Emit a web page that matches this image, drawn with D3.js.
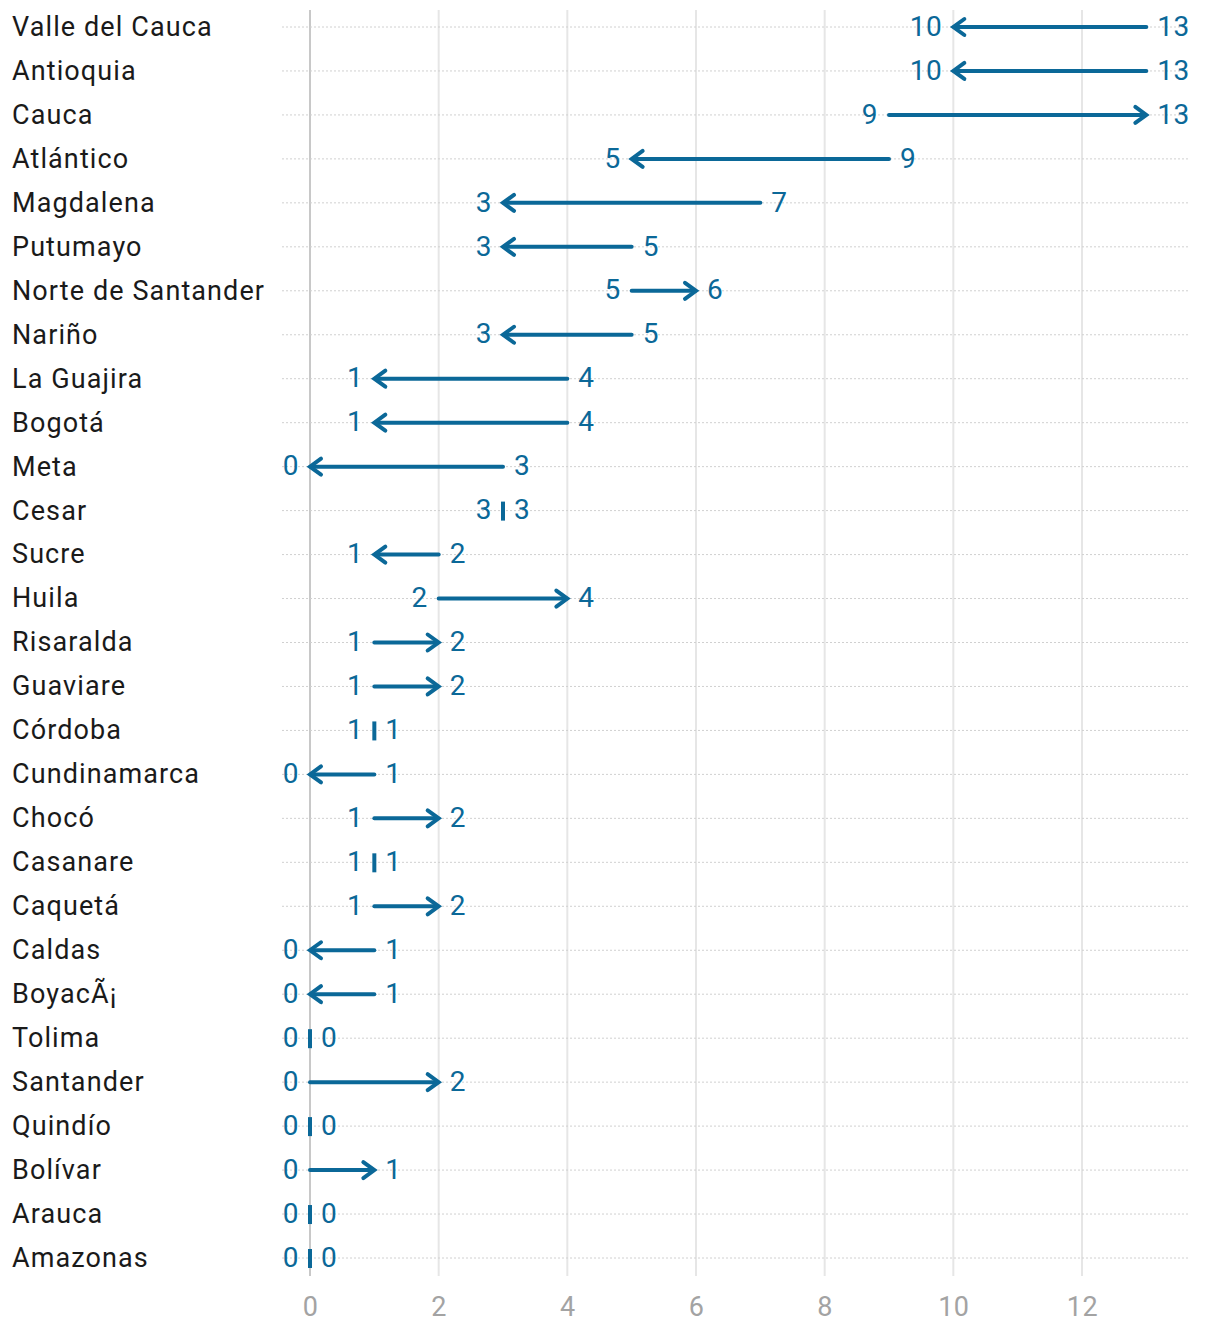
<!DOCTYPE html>
<html><head><meta charset="utf-8">
<script src="https://cdn.jsdelivr.net/npm/d3@7"></script>
<style>body{margin:0;background:#fff}svg{display:block}</style>
</head><body>
<svg id="c" width="1220" height="1328"></svg>
<script>
const departments = ["Valle del Cauca","Antioquia","Cauca","Atlántico","Magdalena","Putumayo","Norte de Santander","Nariño","La Guajira","Bogotá","Meta","Cesar","Sucre","Huila","Risaralda","Guaviare","Córdoba","Cundinamarca","Chocó","Casanare","Caquetá","Caldas","BoyacÃ¡","Tolima","Santander","Quindío","Bolívar","Arauca","Amazonas"];
const fromValues = [13,13,9,9,7,5,5,5,4,4,3,3,2,2,1,1,1,1,1,1,1,1,1,0,0,0,0,0,0];
const toValues   = [10,10,13,5,3,3,6,3,1,1,0,3,1,4,2,2,1,0,2,1,2,0,0,0,2,0,1,0,0];
const xTicks = [0,2,4,6,8,10,12];

const color = "#0b6898";
const font = "Roboto, 'Noto Sans', sans-serif";
const svg = d3.select("#c");
const x = d3.scaleLinear().domain([0,12]).range([310,1082]);
const y = d3.scalePoint().domain(departments).range([27,1258]);
const data = departments.map((d,i)=>({name:d, a:fromValues[i], b:toValues[i]}));

// vertical grid
svg.append("g").selectAll("line").data(xTicks).join("line")
  .attr("x1",d=>x(d)).attr("x2",d=>x(d)).attr("y1",10).attr("y2",1276)
  .attr("stroke",d=>d===0?"#c8c8c8":"#e6e6e6").attr("stroke-width",2);

// dotted row lines
svg.append("g").selectAll("line").data(data).join("line")
  .attr("x1",282).attr("x2",1188).attr("y1",d=>y(d.name)).attr("y2",d=>y(d.name))
  .attr("stroke","#d0d0d0").attr("stroke-width",1).attr("stroke-dasharray","2,2");

// axis
const axis = d3.axisBottom(x).tickValues(xTicks).tickSize(0).tickPadding(0);
const ag = svg.append("g").attr("transform","translate(0,1307)").call(axis);
ag.select(".domain").remove();
ag.selectAll("text").attr("fill","#a3a3a3").style("font-family",font).style("font-size","27px")
  .style("letter-spacing","0.5px").attr("dy","0.35em");

// labels
svg.append("g").selectAll("text").data(data).join("text")
  .attr("x",12).attr("y",d=>y(d.name)).attr("dy","0.33em")
  .attr("fill","#1a1a1a").style("font-family",font).style("font-size","27px")
  .style("letter-spacing","1.1px")
  .text(d=>d.name);

const g = svg.append("g");
data.forEach(d=>{
  const yy = y(d.name);
  const xa = x(d.a), xb = x(d.b);
  const row = g.append("g");
  if (d.a === d.b) {
    row.append("line").attr("x1",xa).attr("x2",xa).attr("y1",yy-9).attr("y2",yy+10)
      .attr("stroke",color).attr("stroke-width",4);
    row.append("text").attr("x",xa-11).attr("y",yy).attr("text-anchor","end").text(d.a);
    row.append("text").attr("x",xa+11).attr("y",yy).attr("text-anchor","start").text(d.b);
  } else {
    const dir = xb > xa ? 1 : -1;
    row.append("line").attr("x1",xa).attr("x2",xb-dir*1).attr("y1",yy).attr("y2",yy)
      .attr("stroke",color).attr("stroke-width",4).attr("stroke-linecap","round");
    row.append("path").attr("d",`M${xb-dir*11},${yy-8}L${xb},${yy}L${xb-dir*11},${yy+8}`)
      .attr("fill","none").attr("stroke",color).attr("stroke-width",4)
      .attr("stroke-linecap","round").attr("stroke-linejoin","miter");
    row.append("text").attr("x",xa-dir*11).attr("y",yy)
      .attr("text-anchor",dir>0?"end":"start").text(d.a);
    row.append("text").attr("x",xb+dir*11).attr("y",yy)
      .attr("text-anchor",dir>0?"start":"end").text(d.b);
  }
});
g.selectAll("text").attr("fill",color).attr("dy","0.31em")
  .style("font-family",font).style("font-size","28px").style("letter-spacing","0.5px");
</script>
</body></html>
